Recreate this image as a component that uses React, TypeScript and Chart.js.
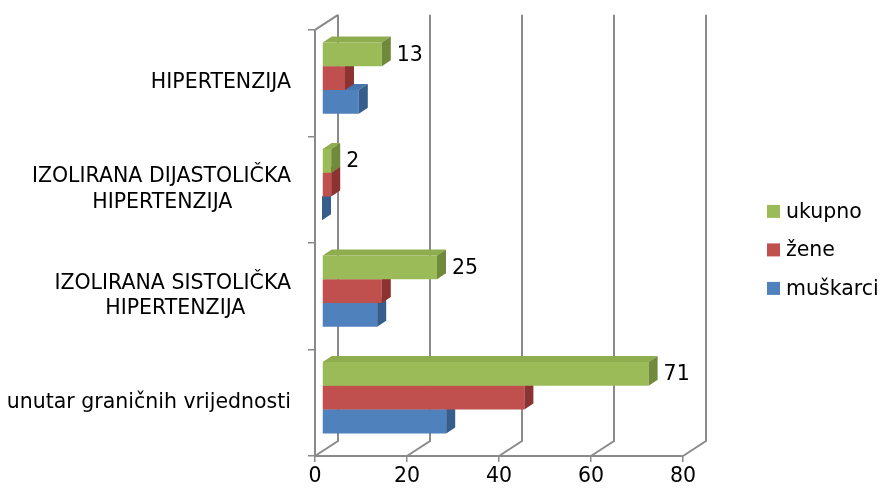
import React, { useEffect, useRef } from "react";
import { Chart, registerables } from "chart.js";

Chart.register(...registerables);

// ---- data ----
const categoryLines: string[][] = [
  ["HIPERTENZIJA"],
  ["IZOLIRANA DIJASTOLIČKA", "HIPERTENZIJA"],
  ["IZOLIRANA SISTOLIČKA", "HIPERTENZIJA"],
  ["unutar graničnih vrijednosti"],
];
const seriesNames = ["ukupno", "žene", "muškarci"];
const ukupno = [13, 2, 25, 71];
const zene = [5, 2, 13, 44];
const muskarci = [8, 0, 12, 27];
const xTickValues = [0, 20, 40, 60, 80];

// ---- styling ----
const FONT_FAMILY = "'DejaVu Sans', sans-serif";
const FONT_SIZE = 20.5;
const GRID = "#8a8a8a";
const FRONT = ["#9BBB59", "#C0504D", "#4F81BD"];
const TOP = ["#8DAD4E", "#B04845", "#4775AD"];
const SIDE = ["#6F8A3A", "#8C3331", "#375D8C"];
const BAR_DX = 7; // bars sit slightly behind the front plane
const BAR_DY = -5;
const FACE_DX = 9; // bar depth
const FACE_DY = -6;
const WALL_DX = 23; // chart depth
const WALL_DY = -15;

let measureCtx: CanvasRenderingContext2D | null = null;
function padLines(lines: string[]): string | string[] {
  if (lines.length < 2) return lines[0];
  if (!measureCtx) measureCtx = document.createElement("canvas").getContext("2d");
  const ctx = measureCtx!;
  ctx.font = `${FONT_SIZE}px ${FONT_FAMILY}`;
  const widths = lines.map((l) => ctx.measureText(l).width);
  const max = Math.max(...widths);
  const sp = ctx.measureText(" ").width;
  return lines.map((l, i) => l + " ".repeat(Math.round((max - widths[i]) / 2 / sp)));
}

const depthPlugin = {
  id: "depth3d",
  beforeDatasetsDraw(chart: any) {
    const ctx = chart.ctx as CanvasRenderingContext2D;
    const area = chart.chartArea;
    const xs = chart.scales.x;
    ctx.save();
    ctx.strokeStyle = GRID;
    ctx.lineWidth = 2;
    ctx.beginPath();
    xTickValues.forEach((v) => {
      const px = xs.getPixelForValue(v);
      ctx.moveTo(px, area.bottom);
      ctx.lineTo(px + WALL_DX, area.bottom + WALL_DY);
      ctx.lineTo(px + WALL_DX, area.top + WALL_DY);
    });
    ctx.moveTo(area.left, area.top);
    ctx.lineTo(xs.getPixelForValue(0) + WALL_DX, area.top + WALL_DY);
    ctx.stroke();
    ctx.restore();
    ctx.save();
    ctx.translate(BAR_DX, BAR_DY);
  },
  afterDatasetDraw(chart: any, args: any) {
    const ctx = chart.ctx as CanvasRenderingContext2D;
    const di = args.index;
    const meta = args.meta;
    meta.data.forEach((bar: any, i: number) => {
      const { x, y, base, height } = bar.getProps(["x", "y", "base", "height"], true);
      const top = y - height / 2;
      const bottom = y + height / 2;
      const left = Math.min(x, base);
      const right = Math.max(x, base);
      // top face
      ctx.fillStyle = TOP[di];
      ctx.beginPath();
      ctx.moveTo(left, top);
      ctx.lineTo(left + FACE_DX, top + FACE_DY);
      ctx.lineTo(right + FACE_DX, top + FACE_DY);
      ctx.lineTo(right, top);
      ctx.closePath();
      ctx.fill();
      // side face
      ctx.fillStyle = SIDE[di];
      ctx.beginPath();
      ctx.moveTo(right, top);
      ctx.lineTo(right + FACE_DX, top + FACE_DY);
      ctx.lineTo(right + FACE_DX, bottom + FACE_DY);
      ctx.lineTo(right, bottom);
      ctx.closePath();
      ctx.fill();
      if (di === 0) {
        const val = chart.data.datasets[di].data[i];
        ctx.fillStyle = "#000";
        ctx.font = `${FONT_SIZE}px ${FONT_FAMILY}`;
        ctx.textAlign = "left";
        ctx.textBaseline = "middle";
        ctx.fillText(String(val), right + FACE_DX + 6, y + 1);
      }
    });
  },
  afterDatasetsDraw(chart: any) {
    chart.ctx.restore();
  },
  afterDraw(chart: any) {
    const ctx = chart.ctx as CanvasRenderingContext2D;
    const area = chart.chartArea;
    const lx = area.right + 84;
    const cy = (area.top + area.bottom) / 2 + 7;
    const gap = 38.5;
    ctx.save();
    ctx.font = `${FONT_SIZE}px ${FONT_FAMILY}`;
    ctx.textAlign = "left";
    ctx.textBaseline = "middle";
    chart.data.datasets.forEach((ds: any, i: number) => {
      const yy = cy + (i - 1) * gap;
      ctx.fillStyle = ds.backgroundColor;
      ctx.fillRect(lx, yy - 6.5, 13, 13);
      ctx.fillStyle = "#000";
      ctx.fillText(ds.label, lx + 19, yy + 1);
    });
    ctx.restore();
  },
};

export default function App() {
  const ref = useRef<HTMLCanvasElement | null>(null);
  useEffect(() => {
    document.body.style.margin = "0";
    const canvas = ref.current!;
    const chart = new Chart(canvas, {
      type: "bar",
      data: {
        labels: categoryLines,
        datasets: [
          { label: seriesNames[0], data: ukupno, backgroundColor: FRONT[0] },
          { label: seriesNames[1], data: zene, backgroundColor: FRONT[1] },
          { label: seriesNames[2], data: muskarci, backgroundColor: FRONT[2] },
        ],
      },
      options: {
        indexAxis: "y",
        responsive: false,
        animation: false,
        devicePixelRatio: 1,
        events: [],
        layout: { padding: { top: 28, right: 198, bottom: 0, left: 0 } },
        datasets: { bar: { categoryPercentage: 0.67, barPercentage: 1, borderWidth: 0, clip: false } as any },
        plugins: { legend: { display: false }, tooltip: { enabled: false } },
        scales: {
          x: {
            min: 0,
            max: 80,
            afterBuildTicks: (s: any) => {
              s.ticks = xTickValues.map((v) => ({ value: v }));
            },
            afterFit: (s: any) => {
              s.height = 37;
            },
            ticks: { color: "#000", font: { family: FONT_FAMILY, size: 20.5 }, padding: 2 },
            grid: { drawOnChartArea: false, drawTicks: true, tickLength: 6, color: GRID, lineWidth: 1.5 },
            border: { display: true, color: GRID, width: 2 },
          },
          y: {
            afterFit: (s: any) => {
              s.width = 315;
            },
            ticks: {
              color: "#000",
              font: { family: FONT_FAMILY, size: FONT_SIZE, lineHeight: 1.25 },
              padding: 17,
              callback: (_v: any, i: number) => padLines(categoryLines[i]),
            },
            grid: { drawOnChartArea: false, drawTicks: true, tickLength: 7, color: GRID, lineWidth: 1.5, offset: true },
            border: { display: true, color: GRID, width: 2 },
          },
        },
      },
      plugins: [depthPlugin],
    });
    return () => chart.destroy();
  }, []);
  return (
    <div style={{ width: 881, height: 493 }}>
      <canvas ref={ref} width={881} height={493} style={{ display: "block" }} />
    </div>
  );
}
